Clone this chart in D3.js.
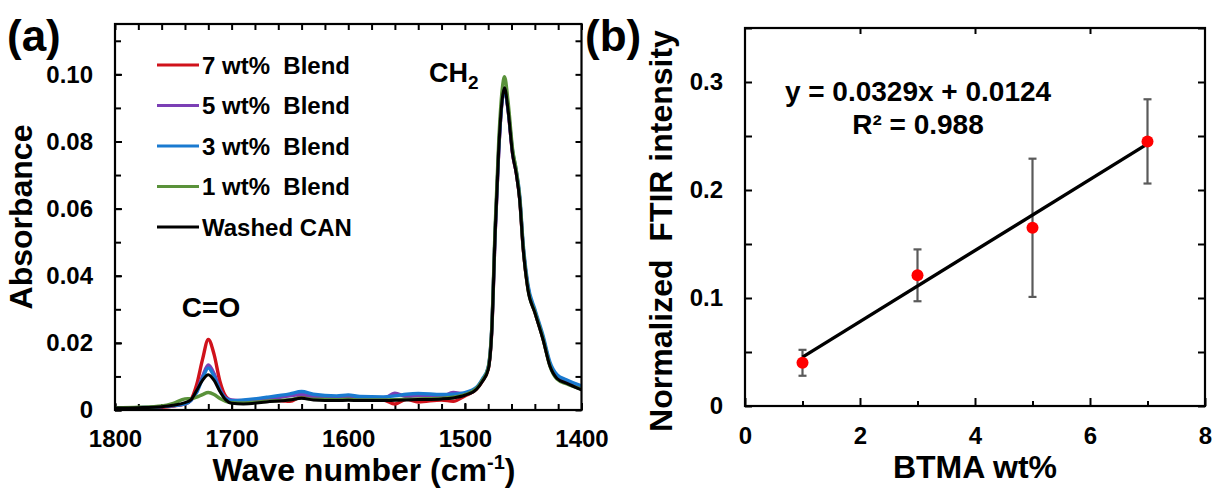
<!DOCTYPE html>
<html>
<head>
<meta charset="utf-8">
<script src="https://cdn.jsdelivr.net/npm/d3@7"></script>
<style>
  body { margin: 0; background: #fff; }
  svg text { font-family: "Liberation Sans", Arial, sans-serif; font-weight: bold; fill: #000; }
</style>
</head>
<body>
<div id="chart"></div>
<script>
// ---- panel (a): FTIR spectra ----
const wavenumbers = [1800, 1780, 1760, 1750, 1740, 1735, 1730, 1725, 1720, 1715,
    1710, 1705, 1700, 1690, 1670, 1650, 1640, 1630, 1610, 1600,
    1590, 1570, 1560, 1550, 1540, 1520, 1510, 1500, 1490, 1485,
    1480, 1477, 1474, 1471, 1468, 1466, 1463, 1459, 1456, 1453,
    1450, 1446, 1440, 1433, 1427, 1421, 1413, 1400];

const blend7 = [.0004, .0005, .0008, .0012, .0018, .0030, .0075, .0150, .0210, .0165,
    .0085, .0040, .0028, .0026, .0030, .0026, .0040, .0036, .0032, .0034,
    .0032, .0030, .0018, .0032, .0024, .0030, .0026, .0042, .0062, .0086,
    .0122, .0232, .0530, .0772, .0925, .0958, .0895, .0762, .0708, .0628,
    .0482, .0364, .0292, .0213, .0133, .0097, .0082, .0064];

const blend5 = [.0005, .0007, .0010, .0013, .0018, .0028, .0055, .0100, .0134, .0108,
    .0062, .0036, .0030, .0028, .0033, .0042, .0046, .0040, .0036, .0038,
    .0035, .0034, .0050, .0040, .0043, .0040, .0052, .0048, .0065, .0090,
    .0125, .0235, .0530, .0770, .0925, .0958, .0895, .0762, .0708, .0630,
    .0485, .0368, .0295, .0215, .0136, .0100, .0085, .0066];

const blend3 = [.0005, .0007, .0010, .0013, .0018, .0028, .0052, .0093, .0125, .0100,
    .0058, .0034, .0028, .0030, .0038, .0048, .0055, .0047, .0042, .0045,
    .0040, .0039, .0042, .0047, .0049, .0046, .0047, .0052, .0068, .0092,
    .0128, .0240, .0535, .0775, .0925, .0955, .0898, .0770, .0715, .0640,
    .0495, .0375, .0300, .0222, .0142, .0105, .0090, .0072];

const blend1 = [.0006, .0008, .0012, .0020, .0033, .0034, .0038, .0046, .0052, .0046,
    .0034, .0026, .0022, .0021, .0026, .0031, .0036, .0032, .0031, .0032,
    .0030, .0030, .0031, .0032, .0033, .0035, .0038, .0046, .0064, .0088,
    .0125, .0240, .0550, .0800, .0955, .0993, .0920, .0775, .0715, .0632,
    .0485, .0362, .0292, .0212, .0130, .0092, .0078, .0062];

const washedCAN = [.0006, .0007, .0010, .0014, .0022, .0030, .0058, .0088, .0105, .0088,
    .0055, .0030, .0020, .0018, .0024, .0030, .0035, .0030, .0028, .0029,
    .0028, .0028, .0029, .0030, .0031, .0033, .0036, .0044, .0062, .0085,
    .0120, .0230, .0530, .0775, .0925, .0960, .0895, .0760, .0705, .0625,
    .0480, .0360, .0290, .0210, .0130, .0094, .0080, .0060];

const seriesNames = ["7 wt%  Blend", "5 wt%  Blend", "3 wt%  Blend", "1 wt%  Blend", "Washed CAN"];
const seriesValues = [blend7, blend5, blend3, blend1, washedCAN];
const seriesColors = ["#d0121b", "#7b3fb5", "#1a7ad0", "#5a923a", "#000000"];

const waveTicks = [1800, 1700, 1600, 1500, 1400];
const absTicks = [0, 0.02, 0.04, 0.06, 0.08, 0.10];

// ---- panel (b): normalized intensity vs BTMA ----
const btmaWt = [1, 3, 5, 7];
const ftirIntensity = [0.040, 0.121, 0.165, 0.245];
const ftirError = [0.012, 0.024, 0.064, 0.039];
const fitSlope = 0.0329;
const fitIntercept = 0.0124;
const btmaTicks = [0, 2, 4, 6, 8];
const intensityTicks = [0, 0.1, 0.2, 0.3];

const svg = d3.select("#chart").append("svg")
    .attr("width", 1214)
    .attr("height", 489);

function styleAxis(g) {
    g.select(".domain").remove();
    g.selectAll(".tick line").attr("stroke", "#000").attr("stroke-width", 2);
    g.selectAll(".tick text").style("font-size", "24px").attr("fill", "#000");
}

// ================= panel (a) =================
const a = { left: 115, top: 24, right: 581.5, bottom: 410 };

const xA = d3.scaleLinear().domain([1800, 1400]).range([a.left, a.right]);
const yA = d3.scaleLinear().domain([0, 0.115]).range([a.bottom, a.top]);

svg.append("defs").append("clipPath").attr("id", "clipA")
    .append("rect")
    .attr("x", a.left).attr("y", a.top)
    .attr("width", a.right - a.left).attr("height", a.bottom - a.top);

// minor ticks on all four sides (inside)
const waveMinor = d3.range(1800, 1399, -20);
const absMinor = d3.range(0, 0.1151, 0.01);

svg.append("g").attr("transform", `translate(0,${a.bottom})`)
    .call(d3.axisBottom(xA).tickValues(waveMinor).tickSize(-6).tickFormat(""))
    .call(styleAxis);
svg.append("g").attr("transform", `translate(0,${a.top})`)
    .call(d3.axisTop(xA).tickValues(waveMinor).tickSize(-6).tickFormat(""))
    .call(styleAxis);
svg.append("g").attr("transform", `translate(${a.left},0)`)
    .call(d3.axisLeft(yA).tickValues(absMinor).tickSize(-6).tickFormat(""))
    .call(styleAxis);
svg.append("g").attr("transform", `translate(${a.right},0)`)
    .call(d3.axisRight(yA).tickValues(absMinor).tickSize(-6).tickFormat(""))
    .call(styleAxis);

// labelled axes
svg.append("g").attr("transform", `translate(0,${a.bottom})`)
    .call(d3.axisBottom(xA).tickValues(waveTicks).tickSize(-7).tickPadding(20).tickFormat(d3.format("d")))
    .call(styleAxis);
svg.append("g").attr("transform", `translate(${a.left},0)`)
    .call(d3.axisLeft(yA).tickValues(absTicks).tickSize(-7).tickPadding(22)
        .tickFormat(d => d === 0 ? "0" : d3.format(".2f")(d)))
    .call(styleAxis);

// spectra
const line = d3.line()
    .x((d, i) => xA(wavenumbers[i]))
    .y(d => yA(d))
    .curve(d3.curveMonotoneX);

const spectra = svg.append("g").attr("clip-path", "url(#clipA)");
seriesValues.forEach((vals, i) => {
    spectra.append("path")
        .datum(vals)
        .attr("d", line)
        .attr("fill", "none")
        .attr("stroke", seriesColors[i])
        .attr("stroke-width", i === 4 ? 3 : 3.4)
        .attr("stroke-linejoin", "round");
});

// frame
svg.append("rect")
    .attr("x", a.left).attr("y", a.top)
    .attr("width", a.right - a.left).attr("height", a.bottom - a.top)
    .attr("fill", "none").attr("stroke", "#000").attr("stroke-width", 2.2);

// legend
const legend = svg.append("g");
seriesNames.forEach((name, i) => {
    const yy = 65 + i * 40.5;
    legend.append("line")
        .attr("x1", 157).attr("x2", 199)
        .attr("y1", yy).attr("y2", yy)
        .attr("stroke", seriesColors[i])
        .attr("stroke-width", i === 4 ? 2.8 : 3.2);
    legend.append("text")
        .attr("x", 202).attr("y", yy + 8.5)
        .style("font-size", "24px")
        .style("white-space", "pre")
        .attr("xml:space", "preserve")
        .text(name);
});

// peak labels
svg.append("text")
    .attr("x", 211).attr("y", 317)
    .attr("text-anchor", "middle")
    .style("font-size", "28px")
    .text("C=O");

const ch2 = svg.append("text")
    .attr("x", 429).attr("y", 82)
    .style("font-size", "27px");
ch2.append("tspan").text("CH");
ch2.append("tspan").attr("dy", 7).style("font-size", "19px").text("2");

// axis titles
const xTitleA = svg.append("text")
    .attr("x", 364).attr("y", 481)
    .attr("text-anchor", "middle")
    .style("font-size", "32px");
xTitleA.append("tspan").text("Wave number (cm");
xTitleA.append("tspan").attr("dy", -12).style("font-size", "20px").text("-1");
xTitleA.append("tspan").attr("dy", 12).text(")");

svg.append("text")
    .attr("transform", `translate(32,${(a.top + a.bottom) / 2}) rotate(-90)`)
    .attr("text-anchor", "middle")
    .style("font-size", "32px")
    .text("Absorbance");

svg.append("text")
    .attr("x", 7).attr("y", 51)
    .style("font-size", "44px")
    .text("(a)");

// ================= panel (b) =================
const b = { left: 745, top: 28, right: 1205, bottom: 406 };

const xB = d3.scaleLinear().domain([0, 8]).range([b.left, b.right]);
const yB = d3.scaleLinear().domain([0, 0.35]).range([b.bottom, b.top]);

const intensityMinor = d3.range(0, 0.3501, 0.05);

svg.append("g").attr("transform", `translate(0,${b.bottom})`)
    .call(d3.axisBottom(xB).tickValues(d3.range(1, 8, 2)).tickSize(-5).tickFormat(""))
    .call(styleAxis);
svg.append("g").attr("transform", `translate(0,${b.top})`)
    .call(d3.axisTop(xB).tickValues([2, 4, 6]).tickSize(-6).tickFormat(""))
    .call(styleAxis);
svg.append("g").attr("transform", `translate(${b.left},0)`)
    .call(d3.axisLeft(yB).tickValues(intensityMinor).tickSize(-7).tickFormat(""))
    .call(styleAxis);
svg.append("g").attr("transform", `translate(${b.right},0)`)
    .call(d3.axisRight(yB).tickValues(intensityMinor).tickSize(-7).tickFormat(""))
    .call(styleAxis);

svg.append("g").attr("transform", `translate(0,${b.bottom})`)
    .call(d3.axisBottom(xB).tickValues(btmaTicks).tickSize(-8).tickPadding(21).tickFormat(d3.format("d")))
    .call(styleAxis);
svg.append("g").attr("transform", `translate(${b.left},0)`)
    .call(d3.axisLeft(yB).tickValues(intensityTicks).tickSize(0).tickPadding(22)
        .tickFormat(d => d === 0 ? "0" : d3.format(".1f")(d)))
    .call(styleAxis);

// error bars
const errG = svg.append("g").attr("stroke", "#5a5a5a").attr("stroke-width", 2.2);
btmaWt.forEach((x, i) => {
    const lo = ftirIntensity[i] - ftirError[i];
    const hi = ftirIntensity[i] + ftirError[i];
    errG.append("line").attr("x1", xB(x)).attr("x2", xB(x)).attr("y1", yB(lo)).attr("y2", yB(hi));
    errG.append("line").attr("x1", xB(x) - 4).attr("x2", xB(x) + 4).attr("y1", yB(lo)).attr("y2", yB(lo));
    errG.append("line").attr("x1", xB(x) - 4).attr("x2", xB(x) + 4).attr("y1", yB(hi)).attr("y2", yB(hi));
});

// linear fit
const xFit = d3.extent(btmaWt);
svg.append("line")
    .attr("x1", xB(xFit[0])).attr("y1", yB(fitSlope * xFit[0] + fitIntercept))
    .attr("x2", xB(xFit[1])).attr("y2", yB(fitSlope * xFit[1] + fitIntercept))
    .attr("stroke", "#000").attr("stroke-width", 3.4);

// points
svg.append("g").selectAll("circle")
    .data(btmaWt)
    .enter().append("circle")
    .attr("cx", d => xB(d))
    .attr("cy", (d, i) => yB(ftirIntensity[i]))
    .attr("r", 6)
    .attr("fill", "#ff0000");

svg.append("rect")
    .attr("x", b.left).attr("y", b.top)
    .attr("width", b.right - b.left).attr("height", b.bottom - b.top)
    .attr("fill", "none").attr("stroke", "#000").attr("stroke-width", 2.2);

// equation
svg.append("text")
    .attr("x", 918).attr("y", 101)
    .attr("text-anchor", "middle")
    .style("font-size", "28px")
    .text(`y = ${fitSlope}x + ${fitIntercept}`);
svg.append("text")
    .attr("x", 918).attr("y", 134)
    .attr("text-anchor", "middle")
    .style("font-size", "28px")
    .text("R² = 0.988");

svg.append("text")
    .attr("x", 975).attr("y", 478)
    .attr("text-anchor", "middle")
    .style("font-size", "32px")
    .text("BTMA wt%");

svg.append("text")
    .attr("transform", `translate(672,231) rotate(-90)`)
    .attr("text-anchor", "middle")
    .attr("xml:space", "preserve")
    .style("white-space", "pre")
    .style("font-size", "32px")
    .text("Normalized  FTIR intensity");

svg.append("text")
    .attr("x", 585).attr("y", 51)
    .style("font-size", "44px")
    .text("(b)");
</script>
</body>
</html>
